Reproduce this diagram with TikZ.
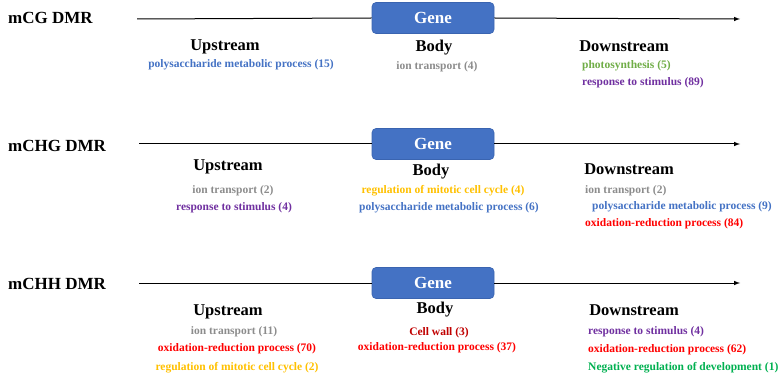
\documentclass[tikz,border=0pt]{standalone}
\usepackage{fontspec}
\setmainfont{Liberation Serif}
\usetikzlibrary{arrows.meta}
\definecolor{genefill}{HTML}{4472C4}
\definecolor{genedraw}{HTML}{3A64B0}
\definecolor{tgray}{HTML}{8C8C8C}
\definecolor{tblue}{HTML}{4472C4}
\definecolor{tpurple}{HTML}{7030A0}
\definecolor{tgreen}{HTML}{70AD47}
\definecolor{tgreenb}{HTML}{00B050}
\definecolor{tgold}{HTML}{FFC000}
\definecolor{tred}{HTML}{FF0000}
\definecolor{tdred}{HTML}{C00000}
\tikzset{
  dmr/.style={anchor=west,inner sep=0pt,font=\fontsize{17}{20}\selectfont\bfseries},
  gene/.style={rounded corners=4pt,fill=genefill,draw=genedraw,line width=0.6pt,
    minimum width=122pt,minimum height=31pt,text=white,
    font=\fontsize{17}{20}\selectfont\bfseries},
  region/.style={inner sep=0pt,text height=11pt,text depth=3.5pt,
    font=\fontsize{16.5}{19}\selectfont\bfseries},
  term/.style={inner sep=0pt,text height=7.8pt,text depth=2.4pt,
    font=\fontsize{11.5}{13}\selectfont\bfseries},
  axis/.style={line width=1pt},
}
\begin{document}
\begin{tikzpicture}[x=1pt,y=-1pt]
\useasboundingbox (0,0) rectangle (781,379);
% mCG
\node[dmr] (cgname) at (8,18) {mCG DMR};
\coordinate (cgstart) at (137,19);
\coordinate (cgend) at (740,19);
\node[gene] (cggene) at (433,18) {Gene};
\draw[axis] (cgstart) -- (cggene.west);
\draw[axis,-latex] (cggene.east) -- (cgend);
\node[region] (cgup) at (225,47) {Upstream};
\node[term,text=tblue] (cgup1) at (241,65) {polysaccharide metabolic process (15)};
\node[region] (cgbody) at (434,48) {Body};
\node[term,text=tgray] (cgbody1) at (437,67) {ion transport (4)};
\node[region] (cgdown) at (624,48) {Downstream};
\node[term,text=tgreen,anchor=west] (cgdown1) at (582,66) {photosynthesis (5)};
\node[term,text=tpurple,anchor=west] (cgdown2) at (582,83) {response to stimulus (89)};
% mCHG
\node[dmr] (chgname) at (8,146) {mCHG DMR};
\coordinate (chgstart) at (139,144);
\coordinate (chgend) at (740,144);
\node[gene] (chggene) at (433,144) {Gene};
\draw[axis] (chgstart) -- (chggene.west);
\draw[axis,-latex] (chggene.east) -- (chgend);
\node[region] (chgup) at (228,167) {Upstream};
\node[term,text=tgray] (chgup1) at (233,191) {ion transport (2)};
\node[term,text=tpurple] (chgup2) at (234,208) {response to stimulus (4)};
\node[region] (chgbody) at (431,172) {Body};
\node[term,text=tgold] (chgbody1) at (443,191) {regulation of mitotic cell cycle (4)};
\node[term,text=tblue] (chgbody2) at (449,208) {polysaccharide metabolic process (6)};
\node[region] (chgdown) at (629,171) {Downstream};
\node[term,text=tgray,anchor=west] (chgdown1) at (585,191) {ion transport (2)};
\node[term,text=tblue,anchor=west] (chgdown2) at (592,207) {polysaccharide metabolic process (9)};
\node[term,text=tred,anchor=west] (chgdown3) at (585,224) {oxidation-reduction process (84)};
% mCHH
\node[dmr] (chhname) at (8,284) {mCHH DMR};
\coordinate (chhstart) at (139,283);
\coordinate (chhend) at (740,283);
\node[gene] (chhgene) at (433,283) {Gene};
\draw[axis] (chhstart) -- (chhgene.west);
\draw[axis,-latex] (chhgene.east) -- (chhend);
\node[region] (chhup) at (228,312) {Upstream};
\node[term,text=tgray] (chhup1) at (234,332) {ion transport (11)};
\node[term,text=tred] (chhup2) at (237,349) {oxidation-reduction process (70)};
\node[term,text=tgold] (chhup3) at (237,368) {regulation of mitotic cell cycle (2)};
\node[region] (chhbody) at (435,310) {Body};
\node[term,text=tdred] (chhbody1) at (439,333) {Cell wall (3)};
\node[term,text=tred] (chhbody2) at (437,348) {oxidation-reduction process (37)};
\node[region] (chhdown) at (634,312) {Downstream};
\node[term,text=tpurple,anchor=west] (chhdown1) at (588,332) {response to stimulus (4)};
\node[term,text=tred,anchor=west] (chhdown2) at (588,350) {oxidation-reduction process (62)};
\node[term,text=tgreenb,anchor=west] (chhdown3) at (588,368) {Negative regulation of development (1)};
\end{tikzpicture}
\end{document}
